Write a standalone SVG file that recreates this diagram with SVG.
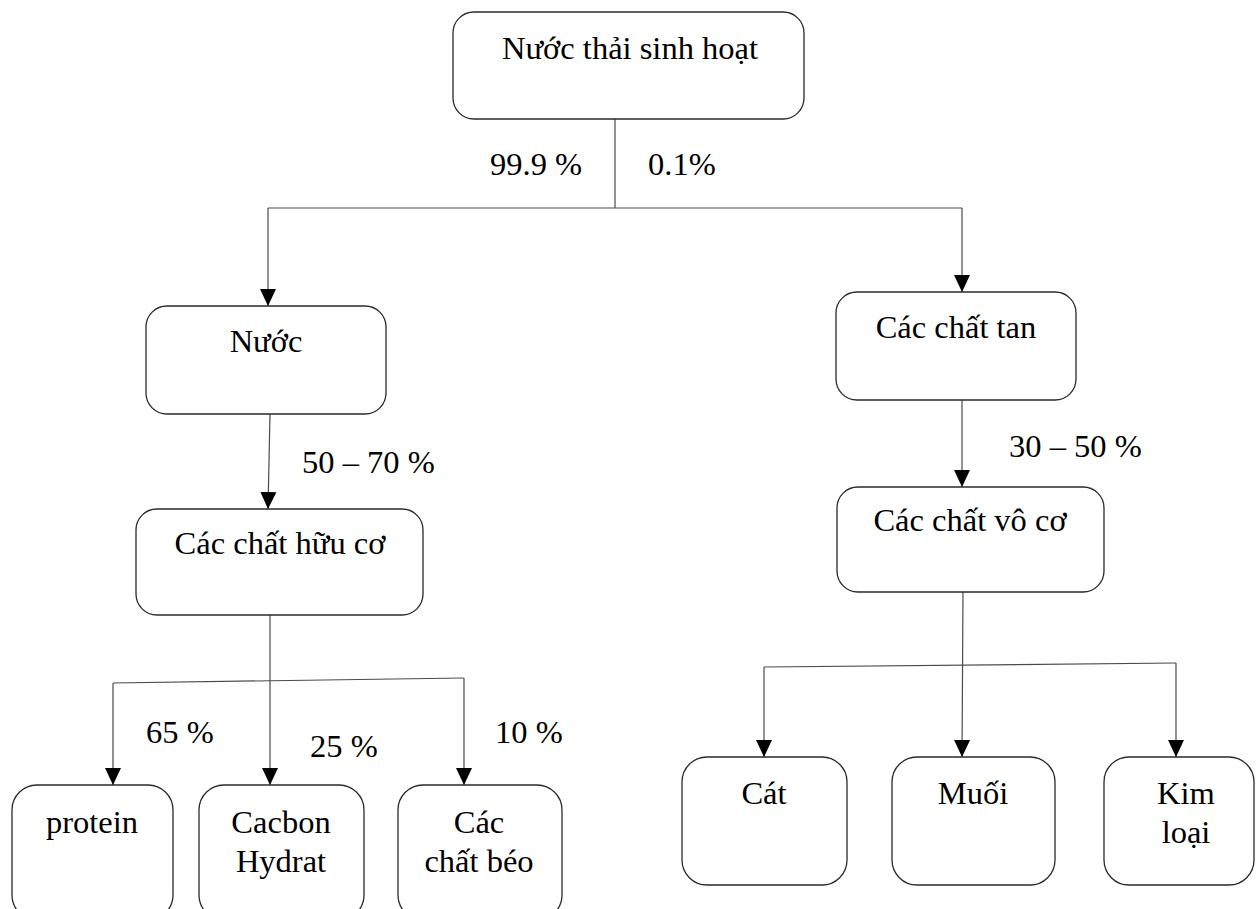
<svg xmlns="http://www.w3.org/2000/svg" width="1256" height="909" viewBox="0 0 1256 909">
  <style>
    .box { fill: #ffffff; stroke: #2a2a2a; stroke-width: 1.3; }
    .lbl { font-family: "Liberation Serif", "Times New Roman", serif; font-size: 32.5px; fill: #000000; }
    .mid { text-anchor: middle; }
    .wire { fill: none; stroke: #4a4a4a; stroke-width: 1.2; }
    .arrow { fill: none; stroke: #4a4a4a; stroke-width: 1.2; marker-end: url(#head); }
  </style>
  <defs>
    <marker id="head" markerUnits="userSpaceOnUse" markerWidth="17" markerHeight="17" viewBox="0 0 17 17" refX="17" refY="8.5" orient="auto">
      <path d="M0,0.5 L17,8.5 L0,16.5 Z" fill="#000000"/>
    </marker>
  </defs>
  <rect width="1256" height="909" fill="#ffffff"/>

  <!-- connectors -->
  <g id="connectors">
    <line class="wire" x1="615" y1="119" x2="615" y2="208"/>
    <line class="wire" x1="268" y1="208" x2="962" y2="208"/>
    <line class="arrow" x1="268" y1="208" x2="268" y2="306"/>
    <line class="arrow" x1="962" y1="208" x2="962" y2="292"/>
    <line class="arrow" x1="270" y1="414" x2="268" y2="509"/>
    <line class="arrow" x1="962" y1="400" x2="962" y2="487"/>
    <!-- organic split -->
    <line class="arrow" x1="270" y1="615" x2="270" y2="785"/>
    <line class="wire" x1="113" y1="683" x2="464" y2="678"/>
    <line class="arrow" x1="113" y1="683" x2="113" y2="785"/>
    <line class="arrow" x1="464" y1="678" x2="464" y2="785"/>
    <!-- inorganic split -->
    <line class="arrow" x1="963" y1="592" x2="962" y2="757"/>
    <line class="wire" x1="764" y1="667" x2="1176" y2="663"/>
    <line class="arrow" x1="764" y1="667" x2="764" y2="757"/>
    <line class="arrow" x1="1176" y1="663" x2="1176" y2="757"/>
  </g>

  <!-- edge labels -->
  <g id="edge-labels">
    <text class="lbl" x="490" y="175">99.9 %</text>
    <text class="lbl" x="648" y="175">0.1%</text>
    <text class="lbl" x="302" y="473">50 – 70 %</text>
    <text class="lbl" x="1009" y="457">30 – 50 %</text>
    <text class="lbl" x="146" y="743">65 %</text>
    <text class="lbl" x="310" y="757">25 %</text>
    <text class="lbl" x="495" y="743">10 %</text>
  </g>

  <g id="node-root">
    <rect class="box" x="453" y="12" width="351" height="107" rx="21" ry="21"/>
    <text class="lbl mid" x="630" y="59">Nước thải sinh hoạt</text>
  </g>

  <g id="node-nuoc">
    <rect class="box" x="146" y="306" width="240" height="108" rx="21" ry="21"/>
    <text class="lbl mid" x="266" y="352">Nước</text>
  </g>

  <g id="node-chat-tan">
    <rect class="box" x="836" y="292" width="240" height="108" rx="21" ry="21"/>
    <text class="lbl mid" x="956" y="338">Các chất tan</text>
  </g>

  <g id="node-huu-co">
    <rect class="box" x="136" y="509" width="287" height="106" rx="21" ry="21"/>
    <text class="lbl mid" x="280" y="554">Các chất hữu cơ</text>
  </g>

  <g id="node-vo-co">
    <rect class="box" x="837" y="487" width="267" height="105" rx="21" ry="21"/>
    <text class="lbl mid" x="970" y="531">Các chất vô cơ</text>
  </g>

  <g id="node-protein">
    <rect class="box" x="12" y="785" width="161" height="135" rx="25" ry="25"/>
    <text class="lbl mid" x="92" y="833">protein</text>
  </g>

  <g id="node-cacbon">
    <rect class="box" x="199" y="785" width="165" height="135" rx="25" ry="25"/>
    <text class="lbl mid" x="281" y="833">Cacbon</text>
    <text class="lbl mid" x="281" y="872">Hydrat</text>
  </g>

  <g id="node-beo">
    <rect class="box" x="398" y="785" width="164" height="135" rx="25" ry="25"/>
    <text class="lbl mid" x="479" y="833">Các</text>
    <text class="lbl mid" x="479" y="872">chất béo</text>
  </g>

  <g id="node-cat">
    <rect class="box" x="682" y="757" width="165" height="128" rx="25" ry="25"/>
    <text class="lbl mid" x="764" y="804">Cát</text>
  </g>

  <g id="node-muoi">
    <rect class="box" x="892" y="757" width="163" height="128" rx="25" ry="25"/>
    <text class="lbl mid" x="973" y="804">Muối</text>
  </g>

  <g id="node-kim-loai">
    <rect class="box" x="1104" y="757" width="150" height="128" rx="25" ry="25"/>
    <text class="lbl mid" x="1186" y="804">Kim</text>
    <text class="lbl mid" x="1186" y="843">loại</text>
  </g>
</svg>
